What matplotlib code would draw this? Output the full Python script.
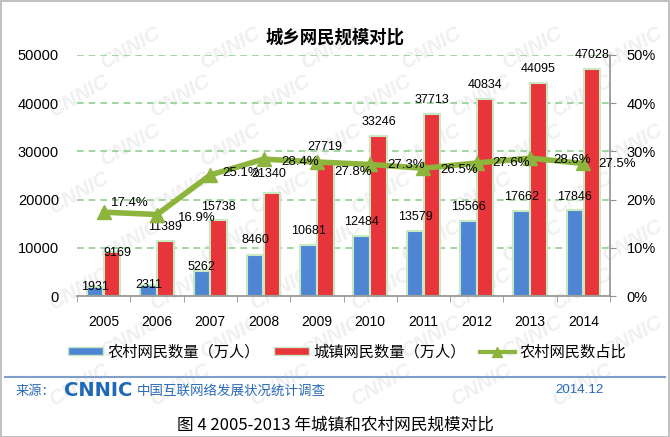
import numpy as np
import matplotlib
matplotlib.use("Agg")
import matplotlib.pyplot as plt
from matplotlib.patches import Patch, Rectangle
from matplotlib.lines import Line2D

plt.rcParams['font.family'] = ['Liberation Sans', 'Noto Sans CJK SC', 'DejaVu Sans']

years = ['2005', '2006', '2007', '2008', '2009', '2010', '2011', '2012', '2013', '2014']
rural = [1931, 2311, 5262, 8460, 10681, 12484, 13579, 15566, 17662, 17846]
urban = [9169, 11389, 15738, 21340, 27719, 33246, 37713, 40834, 44095, 47028]
rural_share = [17.4, 16.9, 25.1, 28.4, 27.8, 27.3, 26.5, 27.6, 28.6, 27.5]

# label nudges in pixels (the labels in the original were dragged by hand)
rural_lift = [0, 0, 4, 15, 14, 14, 14, 14, 14, 13]
urban_lift = [-1, 14, 13, 19, 15, 14, 14, 14, 14, 14]
urban_dx = [5, 0, 0, -3, 0, 0, 0, 0, 0, 0]
pct_dx = [7, 21, 12, 18, 17, 17, 17, 16, 23, 15]
pct_dy = [-9, 3, -2, 3, 10, 1, 2, 0, 2, 1]

BLUE = '#4f86d4'
RED = '#e8353b'
EDGE = '#c9e9c3'
GREEN = '#8db43c'
GRID = '#8fd08f'
FOOT = '#2a6bb8'
PX = 0.72  # points per pixel at dpi 100

fig = plt.figure(figsize=(6.7, 4.37), dpi=100)

# faint watermark behind everything, only where it fits inside the image
for row in range(10):
    for col in range(8):
        wx = (col * 0.15 - 0.03 + (row % 2) * 0.075) * 670
        wy = (row * 0.11) * 437
        if 36 < wx < 634 and 28 < wy < 405:
            fig.text(wx / 670, 1 - wy / 437, 'CNNIC', fontsize=15, fontweight='bold',
                     style='italic', color='#f0f0f0', rotation=30, ha='center',
                     va='center', zorder=-5)

ax = fig.add_axes([77 / 670, 1 - 296 / 437, 533 / 670, 241 / 437])
ax.set_zorder(1)
ax.patch.set_visible(False)
x = np.arange(len(years))
w = 0.31
ax.bar(x - 0.158, rural, w, color=BLUE, edgecolor=EDGE, linewidth=1.5, zorder=2)
ax.bar(x + 0.158, urban, w, color=RED, edgecolor=EDGE, linewidth=1.5, zorder=2)
ax.set_xlim(-0.5, 9.5)
ax.set_ylim(0, 50000)
ax.set_yticks(range(0, 50001, 10000))
for v in range(10000, 50001, 10000):
    ax.axhline(v, color=GRID, linestyle=(0, (4, 3)), linewidth=1.2, zorder=1)
ax.set_xticks(x)
ax.set_xticklabels(years, fontsize=10)
ax.set_xticks(np.arange(-0.5, 10, 1), minor=True)
ax.tick_params(axis='x', which='major', length=0, pad=14)
ax.tick_params(axis='x', which='minor', length=4, color='#909090', direction='out')
ax.tick_params(axis='y', length=0, pad=13, labelsize=10.5)
for s in ['left', 'top', 'right']:
    ax.spines[s].set_visible(False)
ax.spines['bottom'].set_color('#909090')
ax.spines['bottom'].set_linewidth(1.2)

for i in range(len(years)):
    ax.annotate(str(rural[i]), (x[i] - 0.158, rural[i]), xytext=(0, rural_lift[i] * PX),
                textcoords='offset points', ha='center', va='center', fontsize=9, zorder=5)
    ax.annotate(str(urban[i]), (x[i] + 0.158, urban[i]), xytext=(urban_dx[i] * PX, urban_lift[i] * PX),
                textcoords='offset points', ha='center', va='center', fontsize=9, zorder=5)

ax2 = ax.twinx()
ax2.set_zorder(2)
ax2.patch.set_visible(False)
ax2.set_ylim(0, 50)
ax2.set_yticks(range(0, 51, 10))
ax2.set_yticklabels(['%d%%' % v for v in range(0, 51, 10)], fontsize=10.5)
ax2.plot(x, rural_share, color=GREEN, linewidth=4, marker='^', markersize=10, zorder=3)
for i in range(len(years)):
    ax2.annotate('%.1f%%' % rural_share[i], (x[i], rural_share[i]),
                 xytext=(pct_dx[i] * PX, -pct_dy[i] * PX), textcoords='offset points',
                 ha='left', va='center', fontsize=9.5, zorder=6)
for s in ['left', 'top', 'bottom']:
    ax2.spines[s].set_visible(False)
ax2.spines['right'].set_color('#909090')
ax2.spines['right'].set_linewidth(1.2)
ax2.tick_params(axis='y', length=4, color='#909090', pad=8)

fig.text(335 / 670, 1 - 38 / 437, '城乡网民规模对比', fontsize=12.5, fontweight='bold',
         family=['Noto Sans CJK SC'], ha='center', va='center')

handles = [Patch(facecolor=BLUE, edgecolor=EDGE),
           Patch(facecolor=RED, edgecolor=EDGE),
           Line2D([], [], color=GREEN, linewidth=3, marker='^', markersize=7)]
labels = ['农村网民数量（万人）', '城镇网民数量（万人）', '农村网民数占比']
fig.legend(handles, labels, loc='center', bbox_to_anchor=(347 / 670, 1 - 352 / 437),
           ncol=3, frameon=False, handlelength=2.3, handleheight=0.45,
           handletextpad=0.3, columnspacing=0.9, prop={'family': ['Noto Sans CJK SC'], 'size': 11})

# footer
fig.add_artist(Line2D([5 / 670, 665 / 670], [1 - 377 / 437] * 2, color='#7f9fc8', linewidth=1.5))
fig.text(16 / 670, 1 - 391 / 437, '来源：', fontsize=9.5, color=FOOT, va='center',
         family=['Noto Sans CJK SC'])
fig.text(64 / 670, 1 - 391 / 437, 'CNNIC', fontsize=14, color='#1e68b8', va='center',
         fontweight='bold', family=['DejaVu Sans'])
fig.text(137 / 670, 1 - 391 / 437, '中国互联网络发展状况统计调查', fontsize=9.7, color=FOOT,
         va='center', family=['Noto Sans CJK SC'])
fig.text(580 / 670, 1 - 390 / 437, '2014.12', fontsize=9.6, color=FOOT, va='center', ha='center')
fig.text(335 / 670, 1 - 425 / 437, '图 4 2005-2013 年城镇和农村网民规模对比', fontsize=12,
         ha='center', va='center', family=['Noto Sans CJK SC'])

fig.add_artist(Rectangle((0.001, 0.001), 0.997, 0.997, transform=fig.transFigure,
                         fill=False, edgecolor='#b5b5b5', linewidth=1.2))

fig.savefig('out.png', dpi=100)
